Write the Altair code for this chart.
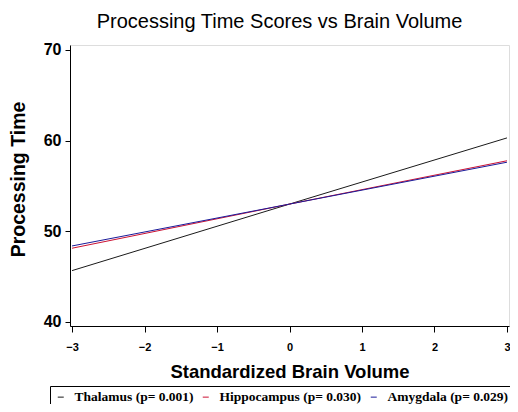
import altair as alt
import pandas as pd

# Data
x_values = [-3, 0, 3]
thalamus = [45.66, 53.0, 60.30]
hippocampus = [48.13, 53.0, 57.78]
amygdala = [48.38, 53.0, 57.62]
series_names = ["Thalamus (p= 0.001)", "Hippocampus (p= 0.030)", "Amygdala (p= 0.029)"]
series_colors = ["#1a1a1a", "#cc1133", "#1a1a99"]
x_ticks = [-3, -2, -1, 0, 1, 2, 3]
y_ticks = [40, 50, 60, 70]

rows = []
for name, vals in zip(series_names, [thalamus, hippocampus, amygdala]):
    for xv, yv in zip(x_values, vals):
        rows.append({"x": xv, "y": yv, "series": name})
df = pd.DataFrame(rows)

chart = (
    alt.Chart(df)
    .mark_line(strokeWidth=1)
    .encode(
        x=alt.X(
            "x:Q",
            scale=alt.Scale(domain=[-3.028, 3.028], nice=False, zero=False),
            axis=alt.Axis(
                title="Standardized Brain Volume",
                values=x_ticks,
                format="d",
                grid=False,
                domainColor="black",
                tickColor="black",
                tickSize=6,
                labelFontSize=11,
                labelFont="Liberation Sans",
                labelFontWeight="bold",
                labelColor="black",
                labelPadding=9,
                titleFont="Liberation Sans",
                titleFontSize=18.5,
                titleFontWeight="bold",
                titleColor="black",
                titlePadding=10,
            ),
        ),
        y=alt.Y(
            "y:Q",
            scale=alt.Scale(domain=[39.55, 70.55], nice=False, zero=False),
            axis=alt.Axis(
                title="Processing Time",
                values=y_ticks,
                grid=False,
                domainColor="black",
                tickColor="black",
                tickSize=5,
                labelFontSize=16,
                labelFont="Liberation Sans",
                labelFontWeight="bold",
                labelColor="black",
                labelPadding=4,
                titleFont="Liberation Sans",
                titleFontSize=19.5,
                titleFontWeight="bold",
                titleColor="black",
                titleX=-46,
                titleY=134,
                titleBaseline="alphabetic",
            ),
        ),
        color=alt.Color(
            "series:N",
            sort=series_names,
            scale=alt.Scale(domain=series_names, range=series_colors),
            legend=alt.Legend(
                title=None,
                orient="none",
                legendX=-20,
                legendY=341,
                direction="horizontal",
                strokeColor="black",
                padding=4,
                symbolType="stroke",
                symbolSize=36,
                symbolStrokeWidth=1,
                labelFont="Liberation Serif",
                labelFontWeight="bold",
                labelFontSize=13.5,
                labelColor="black",
                labelOffset=7,
                columnPadding=5,
                labelLimit=300,
            ),
        ),
    )
    .properties(
        width=439,
        height=281,
        title=alt.TitleParams(
            "Processing Time Scores vs Brain Volume",
            font="Liberation Sans",
            fontSize=20,
            fontWeight="normal",
            color="black",
            anchor="middle",
            dx=-10,
            offset=10,
        ),
        autosize=alt.AutoSizeParams(type="none"),
        padding={"left": 62, "top": 37, "right": 1, "bottom": 78},
    )
    .configure_view(stroke=None)
    .configure(background="white")
)

chart.save("out.html", embed_options={"renderer": "svg", "actions": False})
